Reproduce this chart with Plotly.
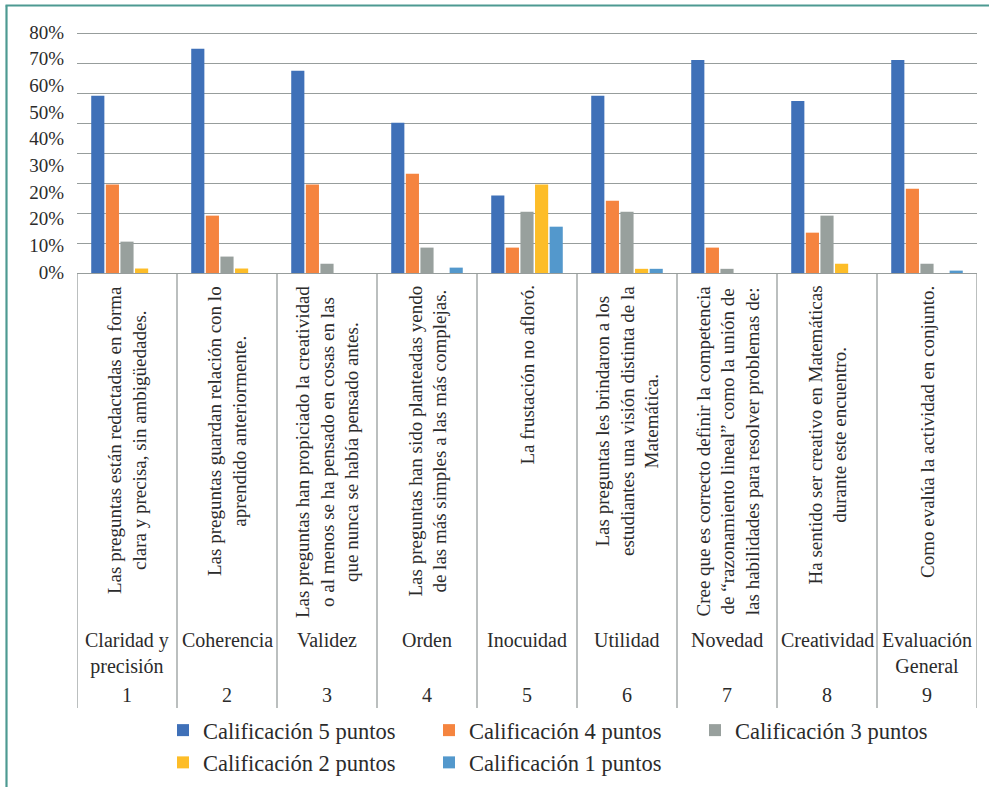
import plotly.graph_objects as go

# ---- data -------------------------------------------------------------
numbers = ["1", "2", "3", "4", "5", "6", "7", "8", "9"]
criteria = ["Claridad y<br>precisión", "Coherencia", "Validez", "Orden", "Inocuidad",
            "Utilidad", "Novedad", "Creatividad", "Evaluación<br>General"]
statements = [
    "Las preguntas están redactadas en forma<br>clara y precisa, sin ambigüedades.",
    "Las preguntas guardan relación con lo<br>aprendido anteriormente.",
    "Las preguntas han propiciado la creatividad<br>o al menos se ha pensado en cosas en las<br>que nunca se había pensado antes.",
    "Las preguntas han sido planteadas yendo<br>de las más simples a las más complejas.",
    "La frustación no afloró.",
    "Las preguntas les brindaron a los<br>estudiantes una visión distinta de la<br>Matemática.",
    "Cree que es correcto definir la competencia<br>de “razonamiento lineal” como la unión de<br>las habilidades para resolver problemas de:",
    "Ha sentido ser creativo en Matemáticas<br>durante este encuentro.",
    "Como evalúa la actividad en conjunto.",
]

series_names = ["Calificación 5 puntos", "Calificación 4 puntos", "Calificación 3 puntos",
                "Calificación 2 puntos", "Calificación 1 puntos"]
pts5 = [59.3, 75.1, 67.7, 50.3, 25.9, 59.3, 71.3, 57.6, 71.3]
pts4 = [29.6, 19.2, 29.6, 33.2, 8.5, 24.2, 8.5, 13.5, 28.2]
pts3 = [10.5, 5.5, 3.1, 8.5, 20.5, 20.5, 1.4, 19.2, 3.1]
pts2 = [1.5, 1.5, 0, 0, 29.6, 1.4, 0, 3.1, 0]
pts1 = [0, 0, 0, 1.8, 15.5, 1.4, 0, 0, 0.8]
series_values = [pts5, pts4, pts3, pts2, pts1]
series_colors = ["#3f70b8", "#f5843f", "#98a09d", "#fdbd28", "#5398cc"]

y_ticktext = ["0%", "10%", "20%", "20%", "30%", "40%", "50%", "60%", "70%", "80%"]
y_tickvals = [0.33, 9.3, 18.2, 27.1, 36.0, 45.0, 53.9, 62.8, 71.7, 80.7]

# ---- geometry helpers (pixel -> paper) ---------------------------------
W, H = 989, 787
L, R, T, B = 77, 977, 31, 273


def xp(px):
    return (px - L) / (R - L)


def yp(py):
    return (B - py) / (B - T)


SERIF = "Liberation Serif"
TXT = "#2b2b2b"
GRID = "#979d9c"
TEAL = "#4d9a92"

x_pos = list(range(1, len(numbers) + 1))

fig = go.Figure()
for name, vals, col in zip(series_names, series_values, series_colors):
    fig.add_trace(go.Bar(x=x_pos, y=vals, name=name, marker_color=col,
                         marker_line_width=0))

annotations = []
for i, x in enumerate(x_pos):
    annotations.append(dict(x=x, xref="x", y=yp(284), yref="paper",
                            text=statements[i], textangle=-90, showarrow=False,
                            xanchor="center", yanchor="top", align="center",
                            font=dict(family=SERIF, size=19, color=TXT)))
    annotations.append(dict(x=x, xref="x", y=yp(627), yref="paper",
                            text=criteria[i], showarrow=False,
                            xanchor="center", yanchor="top", align="center",
                            font=dict(family=SERIF, size=20, color=TXT)))
    annotations.append(dict(x=x, xref="x", y=yp(695), yref="paper",
                            text=numbers[i], showarrow=False,
                            xanchor="center", yanchor="middle",
                            font=dict(family=SERIF, size=20, color=TXT)))

shapes = []
for k in range(len(numbers) + 1):
    shapes.append(dict(type="line", xref="x", yref="paper",
                       x0=k + 0.5, x1=k + 0.5, y0=0, y1=yp(708),
                       line=dict(color=GRID, width=1.3)))
# outer frame (left and top edges)
shapes.append(dict(type="line", xref="paper", yref="paper",
                   x0=xp(6.5), x1=xp(6.5), y0=yp(5.5), y1=yp(800),
                   line=dict(color=TEAL, width=2.2)))
shapes.append(dict(type="line", xref="paper", yref="paper",
                   x0=xp(5.5), x1=xp(1000), y0=yp(5.5), y1=yp(5.5),
                   line=dict(color=TEAL, width=2.2)))

fig.update_layout(
    width=W, height=H,
    margin=dict(l=L, r=W - R, t=T, b=H - B, pad=0, autoexpand=False),
    paper_bgcolor="white", plot_bgcolor="white",
    barmode="group", bargap=0.27, bargroupgap=0.1,
    font=dict(family=SERIF, color=TXT),
    xaxis=dict(range=[0.5, 9.5], showticklabels=False, showgrid=False,
               zeroline=False, showline=True, linecolor=GRID, linewidth=1.3,
               fixedrange=True),
    yaxis=dict(range=[0, 81], tickvals=y_tickvals, ticktext=y_ticktext,
               showgrid=False, zeroline=False, showline=False,
               ticks="", ticklabelstandoff=12,
               tickfont=dict(family=SERIF, size=19, color=TXT),
               minor=dict(tick0=0, dtick=10, showgrid=True, gridcolor=GRID,
                          gridwidth=1.3, ticks=""),
               fixedrange=True),
    legend=dict(orientation="h", x=xp(163), xanchor="left",
                y=yp(709), yanchor="top",
                entrywidth=221, entrywidthmode="pixels",
                font=dict(family=SERIF, size=22.5, color=TXT),
                bgcolor="rgba(0,0,0,0)", traceorder="normal"),
    annotations=annotations,
    shapes=shapes,
)

fig.write_html("out.html")
